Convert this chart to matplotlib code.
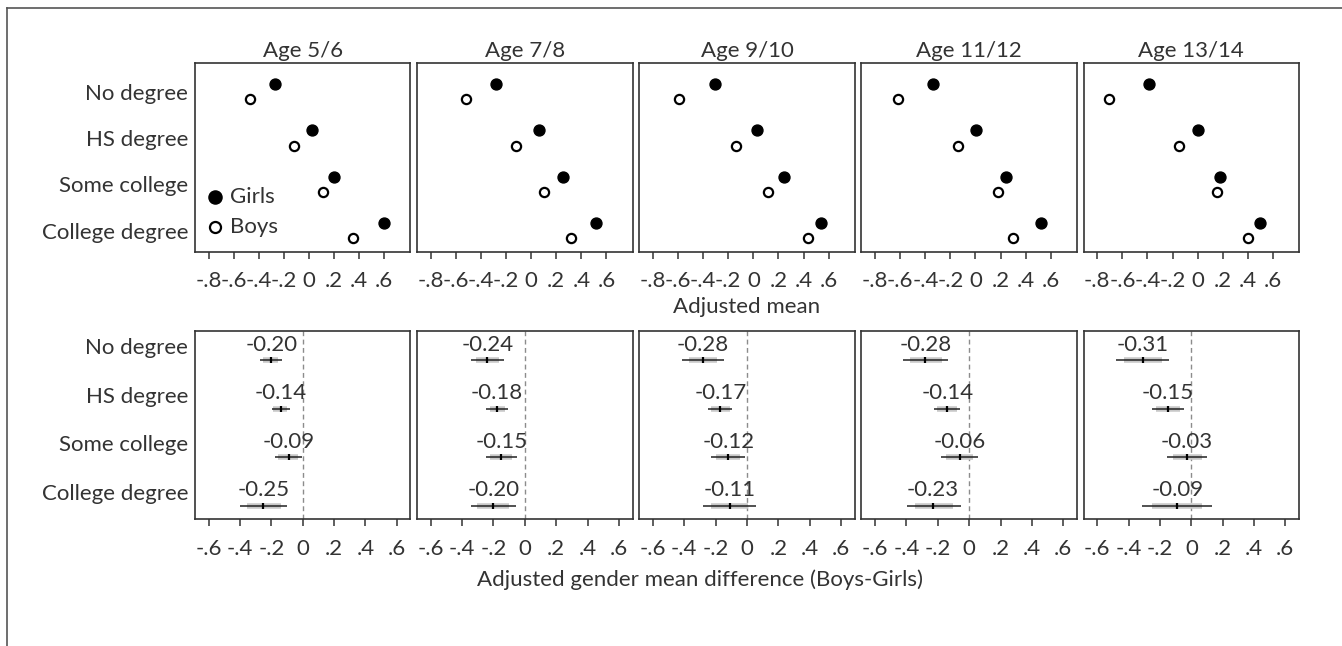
import matplotlib
matplotlib.use("Agg")
import matplotlib.pyplot as plt
from matplotlib.lines import Line2D

plt.rcParams["font.family"] = ["Lato", "DejaVu Sans"]
plt.rcParams["font.weight"] = "normal"

ages = ["Age 5/6", "Age 7/8", "Age 9/10", "Age 11/12", "Age 13/14"]
groups = ["No degree", "HS degree", "Some college", "College degree"]

# adjusted means, one row per age panel
girls = [
    [-0.268, 0.025, 0.201, 0.600],
    [-0.280, 0.059, 0.253, 0.520],
    [-0.307, 0.026, 0.242, 0.541],
    [-0.339, 0.004, 0.242, 0.525],
    [-0.391, -0.001, 0.179, 0.497],
]
boys = [
    [-0.470, -0.116, 0.108, 0.353],
    [-0.519, -0.121, 0.102, 0.318],
    [-0.592, -0.142, 0.120, 0.432],
    [-0.621, -0.140, 0.180, 0.300],
    [-0.707, -0.147, 0.153, 0.399],
]

# gender difference (boys - girls) with outer and inner intervals
diff = [
    [-0.20, -0.14, -0.09, -0.25],
    [-0.24, -0.18, -0.15, -0.20],
    [-0.28, -0.17, -0.12, -0.11],
    [-0.28, -0.14, -0.06, -0.23],
    [-0.31, -0.15, -0.03, -0.09],
]
outer_lo = [
    [-0.274, -0.198, -0.175, -0.400],
    [-0.345, -0.246, -0.248, -0.345],
    [-0.412, -0.246, -0.229, -0.278],
    [-0.420, -0.224, -0.181, -0.397],
    [-0.481, -0.253, -0.153, -0.317],
]
outer_hi = [
    [-0.130, -0.081, -0.006, -0.098],
    [-0.134, -0.108, -0.053, -0.057],
    [-0.146, -0.093, -0.015, 0.057],
    [-0.135, -0.059, 0.059, -0.054],
    [-0.140, -0.045, 0.102, 0.132],
]
inner_lo = [
    [-0.253, -0.188, -0.156, -0.357],
    [-0.314, -0.223, -0.223, -0.307],
    [-0.373, -0.227, -0.199, -0.229],
    [-0.380, -0.203, -0.148, -0.348],
    [-0.429, -0.225, -0.119, -0.253],
]
inner_hi = [
    [-0.156, -0.098, -0.028, -0.138],
    [-0.163, -0.125, -0.085, -0.100],
    [-0.189, -0.110, -0.045, 0.008],
    [-0.175, -0.076, 0.025, -0.105],
    [-0.189, -0.072, 0.066, 0.066],
]

top_ticks = [-0.8, -0.6, -0.4, -0.2, 0, 0.2, 0.4, 0.6]
top_labels = ["-.8", "-.6", "-.4", "-.2", "0", ".2", ".4", ".6"]
bot_ticks = [-0.6, -0.4, -0.2, 0, 0.2, 0.4, 0.6]
bot_labels = ["-.6", "-.4", "-.2", "0", ".2", ".4", ".6"]

TXT = "#333333"
EDGE = "#333333"
FS = 16

W, H = 1342, 646
fig = plt.figure(figsize=(W / 100, H / 100), dpi=100)

# outer frame (cut off at right and bottom)
fig.add_artist(Line2D([7 / W, 1], [1 - 8 / H, 1 - 8 / H], color="#555555", lw=1.2))
fig.add_artist(Line2D([7 / W, 7 / W], [1 - 8 / H, 0], color="#555555", lw=1.2))

gs_top = fig.add_gridspec(1, 5, left=195 / W, right=1299 / W, top=1 - 63 / H,
                          bottom=1 - 252 / H, wspace=0.0316)
gs_bot = fig.add_gridspec(1, 5, left=195 / W, right=1299 / W, top=1 - 330.7 / H,
                          bottom=1 - 519.3 / H, wspace=0.0316)


def style(ax):
    for s in ax.spines.values():
        s.set_color(EDGE)
        s.set_linewidth(1.2)
    ax.tick_params(axis="x", direction="out", length=5, width=1.1, color=EDGE,
                   labelsize=FS, labelcolor=TXT, pad=9)
    ax.tick_params(axis="y", length=0, labelsize=FS, labelcolor=TXT, pad=5)


ypos = list(range(len(groups)))

for i, age in enumerate(ages):
    ax = fig.add_subplot(gs_top[0, i])
    ax.scatter(girls[i], [y - 0.165 for y in ypos], s=62, color="black",
               zorder=3, label="Girls")
    ax.scatter(boys[i], [y + 0.165 for y in ypos], s=44, facecolor="white",
               edgecolor="black", linewidth=1.6, zorder=3, label="Boys")
    ax.set_xlim(-0.909, 0.808)
    ax.set_ylim(3.46, -0.62)
    ax.set_xticks(top_ticks)
    ax.set_xticklabels(top_labels)
    ax.set_yticks(ypos)
    if i == 0:
        ax.set_yticklabels(groups)
        ax.legend(loc="lower left", bbox_to_anchor=(-0.06, -0.025), frameon=False,
                  fontsize=FS, handletextpad=0.05, handlelength=1.2,
                  labelspacing=0.45, labelcolor=TXT, markerscale=1.2)
    else:
        ax.set_yticklabels([])
    ax.set_title(age, fontsize=FS, color=TXT, pad=4)
    style(ax)

fig.text(746.5 / W, 1 - 307 / H, "Adjusted mean", ha="center", va="center",
         fontsize=FS, color=TXT)

for i in range(len(ages)):
    ax = fig.add_subplot(gs_bot[0, i])
    ax.axvline(0, color="#8c8c8c", lw=1.0, ls=(0, (3.5, 2.5)), zorder=1)
    for j in ypos:
        yy = j + 0.29
        ax.plot([inner_lo[i][j], inner_hi[i][j]], [yy, yy], color="#c8c8c8",
                lw=4.0, solid_capstyle="butt", zorder=2)
        ax.plot([outer_lo[i][j], outer_hi[i][j]], [yy, yy], color="#222222",
                lw=1.1, solid_capstyle="butt", zorder=3)
        ax.plot([diff[i][j]], [yy], marker="|", ms=4, mew=1.6, color="black",
                zorder=4)
        ax.text(diff[i][j], j - 0.03, f"{diff[i][j]:.2f}", ha="center",
                va="center", fontsize=FS, color=TXT, zorder=5)
    ax.set_xlim(-0.687, 0.687)
    ax.set_ylim(3.567, -0.315)
    ax.set_xticks(bot_ticks)
    ax.set_xticklabels(bot_labels)
    ax.set_yticks(ypos)
    if i == 0:
        ax.set_yticklabels(groups)
    else:
        ax.set_yticklabels([])
    style(ax)

fig.text(700 / W, 1 - 580 / H, "Adjusted gender mean difference (Boys-Girls)",
         ha="center", va="center", fontsize=FS, color=TXT)

fig.savefig("out.png", dpi=100, facecolor="white")
